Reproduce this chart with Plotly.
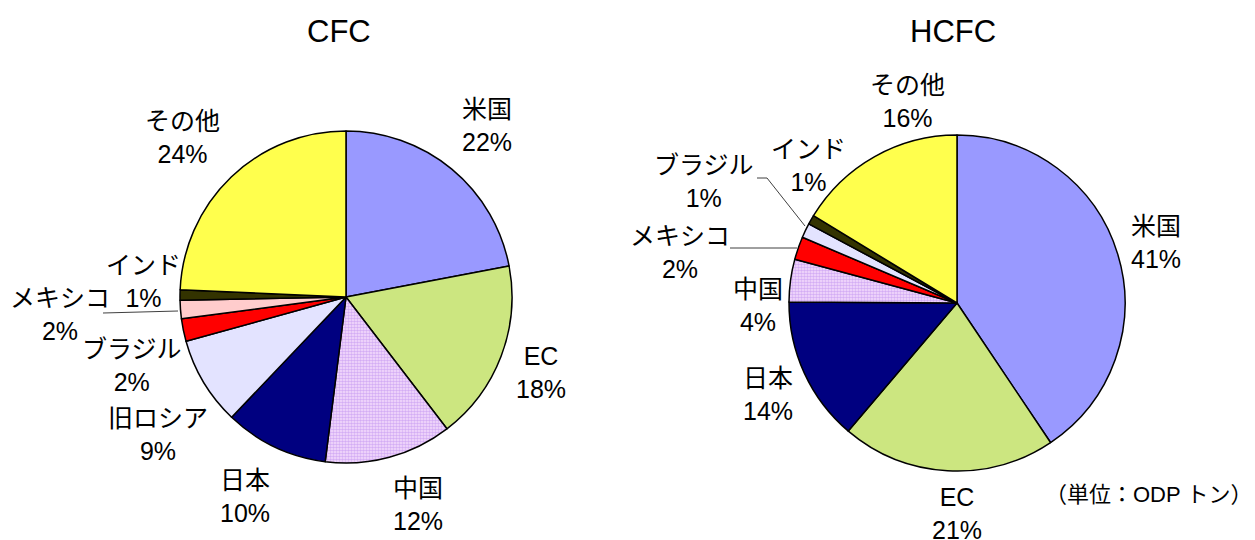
import plotly.graph_objects as go

W, H = 1255, 540
OFF = 8  # page body margin of the browser

# ---- data ----
cfc_labels = ["米国", "EC", "中国", "日本", "旧ロシア", "ブラジル", "メキシコ", "インド", "その他"]
cfc_values = [22.0, 17.6, 12.4, 10.1, 8.6, 2.2, 1.8, 1.0, 24.3]
cfc_colors = ["#9999FF", "#CCE680", "#F6DDFB", "#000080", "#E3E3FF", "#FF0000", "#FFCCCC", "#333300", "#FFFF4D"]

hcfc_labels = ["米国", "EC", "日本", "中国", "メキシコ", "ブラジル", "インド", "その他"]
hcfc_values = [40.6, 20.6, 13.9, 4.1, 2.2, 1.4, 0.9, 16.3]
hcfc_colors = ["#9999FF", "#CCE680", "#000080", "#F6DDFB", "#FF0000", "#E3E3FF", "#333300", "#FFFF4D"]

titles = ["CFC", "HCFC"]
unit_text = "（単位：ODP トン）"

# ---- layout helpers (pixel positions in the reference) ----
def px(x):
    return (x - OFF) / W

def py(y):
    return 1 - (y - OFF) / H

FONT = "Liberation Sans, Noto Sans CJK JP, Arial, sans-serif"

def pie_domain(cx, cy, r):
    return dict(x=[px(cx - r), px(cx + r)], y=[py(cy + r), py(cy - r)])

def patterns(labels):
    return ["." if l == "中国" else "" for l in labels]

def pie_marker(labels, colors):
    return dict(colors=colors, line=dict(color="black", width=1.5),
                pattern=dict(shape=patterns(labels), fillmode="overlay",
                             fgcolor="#B07EEE", size=3, solidity=0.55))

fig = go.Figure()

fig.add_trace(go.Pie(
    labels=cfc_labels, values=cfc_values, sort=False, direction="clockwise", rotation=0,
    textinfo="none", showlegend=False, marker=pie_marker(cfc_labels, cfc_colors),
    domain=pie_domain(346, 297, 166),
))
fig.add_trace(go.Pie(
    labels=hcfc_labels, values=hcfc_values, sort=False, direction="clockwise", rotation=0,
    textinfo="none", showlegend=False, marker=pie_marker(hcfc_labels, hcfc_colors),
    domain=pie_domain(957, 303, 168),
))

# label positions (pixel centers)
cfc_pos = {"米国": (487, 125), "EC": (541, 372), "中国": (418, 504), "日本": (245, 496),
           "旧ロシア": (158, 434), "ブラジル": (132, 365), "メキシコ": (60, 314),
           "インド": (143, 281), "その他": (183, 138)}
hcfc_pos = {"米国": (1156, 242), "EC": (957, 513), "日本": (768, 394), "中国": (758, 305),
            "メキシコ": (680, 252), "ブラジル": (704, 181), "インド": (808, 166),
            "その他": (907, 102)}

annotations = []
for labels, values, pos in [(cfc_labels, cfc_values, cfc_pos), (hcfc_labels, hcfc_values, hcfc_pos)]:
    total = sum(values)
    for l, v in zip(labels, values):
        x, y = pos[l]
        annotations.append(dict(
            x=px(x), y=py(y), xref="paper", yref="paper", showarrow=False,
            text=f"{l}<br>{round(v / total * 100)}%", align="center",
            xanchor="center", yanchor="middle",
            font=dict(family=FONT, size=25, color="black"),
        ))

for t, (x, y) in zip(titles, [(339, 31), (953, 31)]):
    annotations.append(dict(x=px(x), y=py(y), xref="paper", yref="paper", showarrow=False,
                            text=t, xanchor="center", yanchor="middle",
                            font=dict(family=FONT, size=31, color="black")))

annotations.append(dict(x=px(1254), y=py(494), xref="paper", yref="paper", showarrow=False,
                        text=unit_text, xanchor="right", yanchor="middle",
                        font=dict(family=FONT, size=22, color="black")))

def path(points):
    d = "M " + " L ".join(f"{px(x)},{py(y)}" for x, y in points)
    return dict(type="path", path=d, xref="paper", yref="paper",
                line=dict(color="#404040", width=1))

shapes = [
    path([(103, 313), (178, 311)]),                 # CFC メキシコ
    path([(757, 178), (767, 178), (805, 226)]),     # HCFC ブラジル
    path([(730, 248), (797, 248)]),                 # HCFC メキシコ
]

fig.update_layout(
    width=W, height=H, margin=dict(l=0, r=0, t=0, b=0),
    paper_bgcolor="white", plot_bgcolor="white",
    annotations=annotations, shapes=shapes,
    font=dict(family=FONT),
)

fig.write_html("out.html")
